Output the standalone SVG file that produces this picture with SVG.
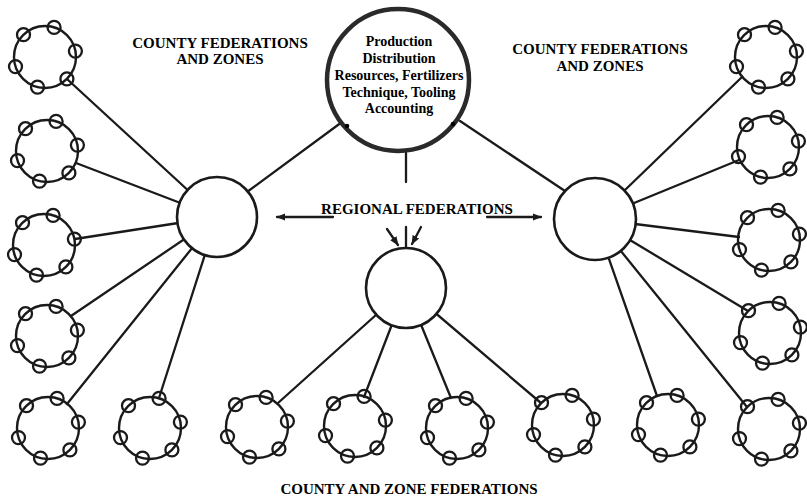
<svg xmlns="http://www.w3.org/2000/svg" xmlns:xlink="http://www.w3.org/1999/xlink" width="807" height="499" viewBox="0 0 807 499">
<style>
.ln{stroke:#1a1a1a;stroke-width:2.3;fill:none;stroke-linecap:round}
.hub{fill:#fff;stroke:#1a1a1a;stroke-width:2.6}
.ring{fill:none;stroke:#1a1a1a;stroke-width:2.4}
.sm{fill:none;stroke:#1a1a1a;stroke-width:2.3}
.t{font-family:"Liberation Serif","Times New Roman",serif;font-weight:bold;fill:#000;text-anchor:middle}
</style>
<defs>
<marker id="ah" viewBox="0 0 10 10" refX="9" refY="5" markerWidth="4" markerHeight="4" orient="auto" markerUnits="strokeWidth">
<path d="M0,1 L10,5 L0,9 Z" fill="#1a1a1a"/>
</marker>
<g id="cl">
<circle class="ring" cx="0" cy="0" r="31"/>
<circle class="sm" cx="-21.5" cy="-22.3" r="6.5"/>
<circle class="sm" cx="9.1" cy="-29.6" r="6.5"/>
<circle class="sm" cx="30.4" cy="-5.9" r="6.5"/>
<circle class="sm" cx="21.9" cy="21.9" r="6.5"/>
<circle class="sm" cx="-7.5" cy="30.1" r="6.5"/>
<circle class="sm" cx="-29.5" cy="9.6" r="6.5"/>
</g>
</defs>
<rect width="807" height="499" fill="#fff"/>

<g id="connectors">
<!-- left hub -->
<line class="ln" x1="67" y1="79" x2="217" y2="217"/>
<line class="ln" x1="76" y1="163" x2="217" y2="217"/>
<line class="ln" x1="75" y1="239" x2="217" y2="217"/>
<line class="ln" x1="71" y1="316" x2="217" y2="217"/>
<line class="ln" x1="67" y1="404" x2="217" y2="217"/>
<line class="ln" x1="159" y1="398" x2="217" y2="217"/>
<line class="ln" x1="247" y1="192" x2="342" y2="122"/>
<!-- right hub -->
<line class="ln" x1="742" y1="77" x2="595" y2="219"/>
<line class="ln" x1="739" y1="160" x2="595" y2="219"/>
<line class="ln" x1="739" y1="237" x2="595" y2="219"/>
<line class="ln" x1="748" y1="311" x2="595" y2="219"/>
<line class="ln" x1="747" y1="407" x2="595" y2="219"/>
<line class="ln" x1="657" y1="396" x2="595" y2="219"/>
<line class="ln" x1="568" y1="193" x2="460" y2="121"/>
<!-- center hub -->
<line class="ln" x1="278" y1="403" x2="406" y2="288"/>
<line class="ln" x1="364" y1="397" x2="406" y2="288"/>
<line class="ln" x1="451" y1="398" x2="406" y2="288"/>
<line class="ln" x1="541" y1="403" x2="406" y2="288"/>
<!-- vertical from top circle -->
<line class="ln" x1="406" y1="153" x2="406" y2="182"/>
<!-- regional arrows -->
<line class="ln" x1="333" y1="217" x2="277" y2="217" stroke-width="2.6" marker-end="url(#ah)"/>
<line class="ln" x1="487" y1="217" x2="541" y2="217" stroke-width="2.6" marker-end="url(#ah)"/>
<line class="ln" x1="406" y1="227" x2="406" y2="248"/>
<line class="ln" x1="387" y1="229" x2="398" y2="245" marker-end="url(#ah)"/>
<line class="ln" x1="421" y1="227" x2="412" y2="244" marker-end="url(#ah)"/>
</g>

<g id="top-node">
<circle cx="398" cy="80" r="71" fill="#fff" stroke="#2a2a2a" stroke-width="4.5"/>
<circle cx="347" cy="126" r="2.3" fill="#000"/>
<circle cx="453" cy="124" r="2.3" fill="#000"/>
<text class="t" font-size="14" x="399" y="46">Production</text>
<text class="t" font-size="14" x="399" y="63">Distribution</text>
<text class="t" font-size="14" x="399" y="80">Resources, Fertilizers</text>
<text class="t" font-size="14" x="399" y="97">Technique, Tooling</text>
<text class="t" font-size="14" x="399" y="113">Accounting</text>
</g>

<g id="hub-left"><circle class="hub" cx="217" cy="217" r="40"/></g>
<g id="hub-right"><circle class="hub" cx="595" cy="219" r="41"/></g>
<g id="hub-center"><circle class="hub" cx="406" cy="288" r="40"/></g>

<g id="clusters">
<use xlink:href="#cl" href="#cl" x="45" y="57"/>
<use xlink:href="#cl" href="#cl" x="47" y="151"/>
<use xlink:href="#cl" href="#cl" x="44" y="245"/>
<use xlink:href="#cl" href="#cl" x="47" y="336"/>
<use xlink:href="#cl" href="#cl" x="48" y="428"/>
<use xlink:href="#cl" href="#cl" x="150" y="428"/>
<use xlink:href="#cl" href="#cl" x="257" y="427"/>
<use xlink:href="#cl" href="#cl" x="355" y="426"/>
<use xlink:href="#cl" href="#cl" x="457" y="428"/>
<use xlink:href="#cl" href="#cl" x="563" y="425"/>
<use xlink:href="#cl" href="#cl" x="668" y="425"/>
<use xlink:href="#cl" href="#cl" x="769" y="429"/>
<use xlink:href="#cl" href="#cl" x="770" y="333"/>
<use xlink:href="#cl" href="#cl" x="769" y="240"/>
<use xlink:href="#cl" href="#cl" x="768" y="147"/>
<use xlink:href="#cl" href="#cl" x="766" y="57"/>
</g>

<g id="labels">
<text class="t" font-size="15" x="220" y="48">COUNTY FEDERATIONS</text>
<text class="t" font-size="15" x="220" y="64">AND ZONES</text>
<text class="t" font-size="15" x="600" y="54">COUNTY FEDERATIONS</text>
<text class="t" font-size="15" x="600" y="71">AND ZONES</text>
<text class="t" font-size="15" x="417" y="214">REGIONAL FEDERATIONS</text>
<text class="t" font-size="15" x="409" y="494">COUNTY AND ZONE FEDERATIONS</text>
</g>
</svg>
